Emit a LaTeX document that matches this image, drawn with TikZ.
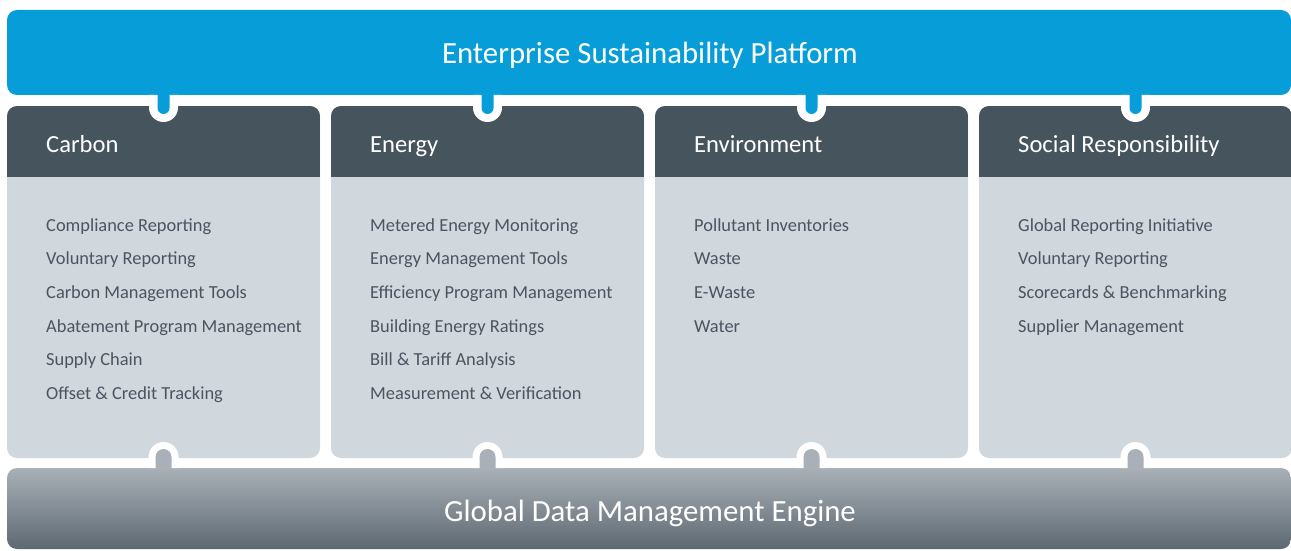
\documentclass[tikz,border=0pt]{standalone}
\usepackage{fontspec}
\setmainfont{Carlito}
\definecolor{platblue}{HTML}{069DD9}
\definecolor{hdrdark}{HTML}{46545E}
\definecolor{bodylight}{HTML}{D0D7DD}
\definecolor{engtop}{HTML}{A9B0B7}
\definecolor{engbot}{HTML}{5D6972}
\definecolor{itemtext}{HTML}{4A5561}
\begin{document}
\begin{tikzpicture}[x=1pt,y=1pt,
  bar/.style={rectangle,rounded corners=10pt,inner sep=0pt,outer sep=0pt,minimum width=1284pt},
  colbox/.style={rectangle,rounded corners=10pt,inner sep=0pt,outer sep=0pt,minimum width=313pt,minimum height=352pt,fill=bodylight},
  titletext/.style={text=white,font=\fontsize{30.8}{32}\selectfont,inner sep=0pt,anchor=base},
  hdrtext/.style={text=white,font=\fontsize{24.6}{26}\selectfont,inner sep=0pt,anchor=base west},
  itemtxt/.style={text=itemtext,font=\fontsize{18.4}{20}\selectfont,inner sep=0pt,anchor=base west},
  ring/.style={fill=white},
  ]
\useasboundingbox (0,0) rectangle (1291,550);
% columns
\foreach \i/\cx in {1/163.5,2/487.5,3/811.5,4/1135.5}{
  \node[colbox] (c\i) at (\cx,268) {};
  \begin{scope}
    \clip[rounded corners=10pt] (c\i.south west) rectangle (c\i.north east);
    \fill[hdrdark] (c\i.north west) rectangle ([yshift=-71pt]c\i.north east);
  \end{scope}
}
% top bar
\node[bar,minimum height=85pt,fill=platblue] (plat) at (649,497.5) {};
% bottom bar
\node[bar,minimum height=81pt,top color=engtop,bottom color=engbot] (eng) at (649,41.5) {};
% connectors: tabs
\foreach \i in {1,2,3,4}{
  \fill[ring] (plat.south -| c\i.north) ++(-14.5,0) -- ++(0,-12.5) arc(180:360:14.5) -- ++(0,12.5) -- cycle;
  \fill[platblue] ([yshift=1pt]plat.south -| c\i.north) ++(-6,0) -- ++(0,-14) arc(180:360:6) -- ++(0,14) -- cycle;
  \fill[ring] (eng.north -| c\i.south) ++(-15,0) -- ++(0,11) arc(180:0:15) -- ++(0,-11) -- cycle;
  \fill[engtop] ([yshift=-1pt]eng.north -| c\i.south) ++(-8,0) -- ++(0,12) arc(180:0:8) -- ++(0,-12) -- cycle;
}
% titles
\node[titletext] (ptitle) at (650,486.5) {Enterprise Sustainability Platform};
\node[titletext] (etitle) at (650,29) {Global Data Management Engine};
% headers
\node[hdrtext] (h1) at ([xshift=39pt]c1.west |- 0,397.5) {Carbon};
\node[hdrtext] (h2) at ([xshift=39pt]c2.west |- 0,397.5) {Energy};
\node[hdrtext] (h3) at ([xshift=39pt]c3.west |- 0,397.5) {Environment};
\node[hdrtext] (h4) at ([xshift=39pt]c4.west |- 0,397.5) {Social Responsibility};
% items
\foreach \t [count=\k from 0] in {Compliance Reporting,Voluntary Reporting,Carbon Management Tools,Abatement Program Management,Supply Chain,Offset \& Credit Tracking}
  \node[itemtxt] (a\k) at ([xshift=39pt]c1.west |- 0,{319-33.7*\k}) {\t};
\foreach \t [count=\k from 0] in {Metered Energy Monitoring,Energy Management Tools,Efficiency Program Management,Building Energy Ratings,Bill \& Tariff Analysis,Measurement \& Verification}
  \node[itemtxt] (b\k) at ([xshift=39pt]c2.west |- 0,{319-33.7*\k}) {\t};
\foreach \t [count=\k from 0] in {Pollutant Inventories,Waste,E-Waste,Water}
  \node[itemtxt] (e\k) at ([xshift=39pt]c3.west |- 0,{319-33.7*\k}) {\t};
\foreach \t [count=\k from 0] in {Global Reporting Initiative,Voluntary Reporting,Scorecards \& Benchmarking,Supplier Management}
  \node[itemtxt] (s\k) at ([xshift=39pt]c4.west |- 0,{319-33.7*\k}) {\t};
\end{tikzpicture}
\end{document}
